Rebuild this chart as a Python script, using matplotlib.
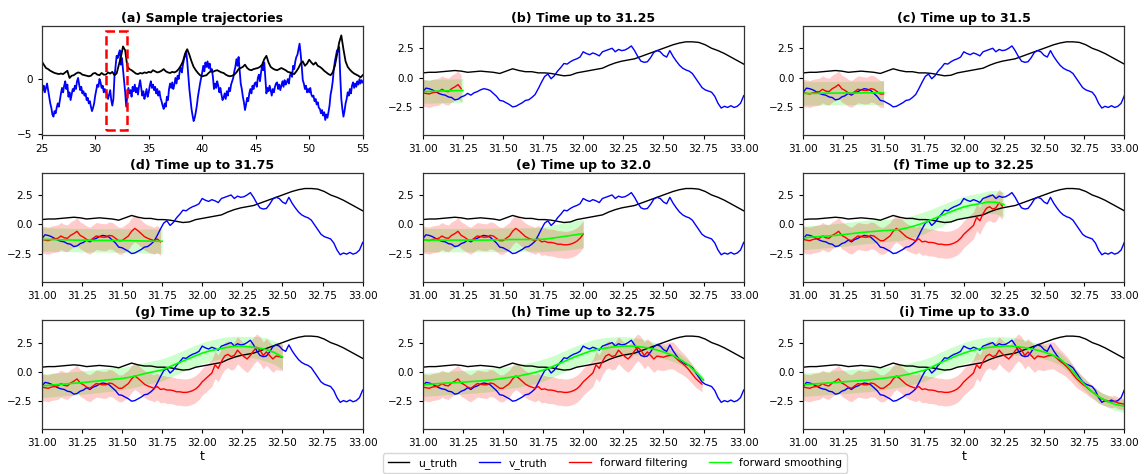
import numpy as np
import matplotlib
matplotlib.use("Agg")
import matplotlib.pyplot as plt
from matplotlib.patches import Rectangle
from matplotlib.lines import Line2D

# ---------------- panel (a): long sample trajectories, t = 25..55 ----------------
t_a_start, t_a_end = 25.0, 55.0
v_a = [
    -1.5, -1.0, -0.6, -1.2, -0.8, -0.4, -1.0, -1.6, -2.2, -2.6,
    -3.2, -3.4, -2.9, -3.1, -2.6, -2.2, -2.5, -1.9, -1.3, -0.8,
    -1.2, -0.6, -0.2, -0.9, -0.5, -1.6, -1.2, -1.9, -1.4, -0.9,
    -1.1, -0.6, -0.9, -0.2, 0.1, -0.5, -1.0, -0.7, -1.3, -1.1,
    -1.5, -1.3, -1.9, -1.7, -2.2, -2.0, -2.5, -2.9, -2.6, -2.2,
    -1.5, -1.0, -0.5, -0.7, 0.0, -0.3, -0.8, -0.6, -1.2, -0.9,
    -1.2, -1.4, -1.8, -1.4, -1.0, -1.9, -2.4, -1.8, 0.2, 1.1,
    2.1, 1.9, 2.3, 2.6, 1.3, 1.9, 0.9, -0.2, -1.2, -2.5,
    -1.5, -0.8, -1.3, -1.0, -1.6, -0.7, -1.1, -0.5, -1.2, -0.8,
    -1.4, -0.6, -0.1, -0.8, -1.5, -1.1, -1.8, -1.4, -0.9, -1.6,
    -1.2, -0.6, -0.2, -0.8, -0.5, -1.0, -0.7, -1.3, -0.9, -1.5,
    -1.1, -1.7, -2.0, -2.4, -2.7, -2.2, -2.5, -1.6, -1.9, -0.9,
    -0.4, -0.8, -0.3, -0.9, -0.5, 0.1, -0.4, 0.3, 0.0, 0.7,
    1.0, 0.6, 1.3, 1.8, 2.1, 2.5, 1.6, 0.4, -0.9, -1.8,
    -2.7, -3.3, -3.8, -3.5, -3.0, -2.4, -1.6, -1.0, -0.4, 0.1,
    0.6, 1.2, 0.7, 1.5, 1.1, 1.6, 1.0, 1.4, 0.7, 0.9,
    0.2, -0.9, -0.4, -0.8, -0.2, -0.6, -1.2, -0.8, -1.4, -1.9,
    -1.7, -1.3, -1.8, -1.1, -1.5, -0.8, -1.1, -0.5, -0.2, 0.1,
    0.7, 1.1, 1.8, 1.2, 2.0, 0.8, -0.4, -0.9, -1.6, -2.1,
    -2.8, -2.3, -1.7, -2.0, -1.3, -0.9, -1.3, -0.6, -0.9, -0.4,
    -0.3, -0.7, 0.1, 0.4, -0.2, 0.6, 1.2, 0.8, 1.5, 0.1,
    -1.3, -0.8, -1.1, -0.6, -1.0, -1.5, -0.9, -1.2, -0.7, -0.4,
    -0.3, -0.9, -0.5, -1.0, -0.6, -0.2, -0.7, -0.1, -0.5, -0.3,
    0.0, -0.4, 0.3, 0.6, 0.2, 1.2, 0.9, 1.6, 2.0, 2.2,
    2.7, 3.2, 2.3, 1.2, -0.1, -0.4, -0.9, -0.6, -1.2, -0.9,
    -1.2, -0.8, -1.4, -1.6, -1.5, -2.0, -1.8, -2.3, -2.1, -2.6,
    -2.7, -3.1, -2.8, -3.3, -3.0, -3.7, -3.2, -3.5, -3.0, -2.4,
    -1.4, -0.9, -0.2, 0.9, 1.6, 2.1, 2.6, 2.5, 2.9, 0.3,
    -1.8, -2.7, -3.4, -2.9, -2.2, -1.8, -1.2, -1.5, -0.9, -1.3,
    -0.6, -0.3, -0.8, -0.4, -0.7, -0.2, -0.5, 0.0, -0.4, -0.1,
    -0.3,
]
u_a = [
    1.6, 1.3, 1.0, 0.9, 0.75, 0.65, 0.55, 0.5, 0.45, 0.5,
    0.45, 0.6, 0.75, 0.1, 0.3, 0.35, 0.5, 0.6, 0.55, 0.4,
    0.35, 0.3, 0.25, 0.3, 0.5, 0.55, 0.4, 0.35, 0.55, 0.4,
    0.4, 0.6, 0.5, 0.65, 0.35, 0.5, 1.25, 2.0, 2.95, 2.6,
    1.15, 0.9, 0.8, 0.65, 0.5, 0.45, 0.55, 0.5, 0.6, 0.55,
    0.65, 0.6, 0.8, 0.7, 0.6, 0.65, 0.75, 0.9, 0.7, 0.6,
    0.55, 0.65, 0.6, 0.7, 0.9, 1.2, 1.6, 2.3, 2.7, 2.2,
    1.6, 1.1, 0.8, 0.55, 0.35, 0.25, 0.3, 0.35, 0.55, 0.7,
    0.65, 0.75, 0.8, 0.7, 0.6, 0.55, 0.4, 0.3, 0.25, 0.3,
    0.4, 0.6, 0.9, 1.0, 1.1, 1.3, 1.0, 0.85, 0.8, 0.9,
    0.95, 1.0, 1.1, 1.3, 1.8, 2.1, 1.5, 1.1, 0.95, 0.85,
    0.8, 0.9, 1.0, 0.9, 0.8, 0.65, 0.6, 0.5, 0.45, 0.7,
    1.0, 1.4, 1.6, 1.2, 1.4, 1.75, 1.5, 1.3, 1.5, 1.2,
    1.1, 0.95, 0.75, 0.6, 0.45, 0.35, 0.6, 1.2, 2.2, 3.3,
    3.95, 2.7, 1.6, 1.1, 0.85, 0.65, 0.5, 0.4, 0.3, 0.15,
    0.35,
]

# ---------------- zoomed window, t = 31..33 ----------------
v_truth = [
    -1.25, -0.9, -0.95, -1.05, -1.2, -1.35, -1.45, -1.5, -1.65, -1.7,
    -1.9, -1.85, -1.65, -1.55, -1.35, -1.5, -1.3, -1.2, -1.05, -0.95,
    -1.0, -1.1, -1.35, -1.6, -1.95, -2.0, -2.15, -2.3, -2.5, -2.45,
    -2.3, -2.15, -1.95, -1.9, -1.7, -1.45, -0.95, -0.4, 0.1, 0.3,
    -0.1, 0.15, 0.55, 0.85, 1.2, 1.15, 1.35, 1.5, 1.6, 1.75,
    2.2, 2.05, 1.95, 2.1, 2.0, 1.85, 2.2, 2.3, 2.4, 2.5,
    2.2, 2.4, 2.3, 2.35, 2.5, 2.7, 2.3, 1.8, 1.4, 1.3,
    1.35, 1.7, 2.15, 2.3, 2.2, 1.9, 1.75, 2.3, 1.8, 1.4,
    1.05, 0.8, 0.65, 0.55, 0.35, -0.05, -0.45, -0.85, -1.05, -1.15,
    -1.25, -1.6, -2.2, -2.6, -2.45, -2.55, -2.4, -2.55, -2.45, -2.2,
    -1.55,
]
u_truth = [
    0.4, 0.45, 0.45, 0.5, 0.55, 0.6, 0.55, 0.45, 0.5, 0.55,
    0.5, 0.45, 0.35, 0.55, 0.75, 0.6, 0.5, 0.5, 0.4, 0.4,
    0.35, 0.25, 0.15, 0.2, 0.4, 0.5, 0.6, 0.7, 0.8, 1.05,
    1.25, 1.4, 1.5, 1.6, 1.8, 2.0, 2.2, 2.4, 2.6, 2.8,
    2.95, 3.05, 3.05, 3.0, 2.8, 2.5, 2.3, 2.05, 1.75, 1.45,
    1.15,
]
filt_mean = [
    -1.3, -1.35, -1.4, -1.3, -1.25, -1.2, -1.0, -1.15, -1.2, -0.95,
    -0.8, -0.6, -0.95, -1.1, -1.3, -1.4, -1.2, -1.0, -1.05, -1.1,
    -1.1, -0.95, -1.0, -1.2, -1.4, -1.4, -1.2, -1.0, -0.6, -0.35,
    -0.55, -0.8, -1.05, -1.2, -1.3, -1.4, -1.25, -1.5, -1.45, -1.55,
    -1.55, -1.6, -1.7, -1.7, -1.75, -1.75, -1.7, -1.6, -1.45, -1.2,
    -0.85, -0.6, -0.35, -0.1, 0.6, 0.3, 0.9, 1.35, 1.5, 1.3,
    1.4, 1.85, 1.55, 1.3, 1.1, 1.4, 1.8, 2.1, 1.85, 1.4,
    1.7, 1.4, 1.1, 1.35, 1.3, 1.25, 1.35, 1.4, 1.4, 1.15,
    0.9, 0.7, 0.45, 0.15, -0.2, -0.55, -0.8, -1.05, -1.25, -1.5,
    -1.7, -1.9, -2.15, -2.3, -2.4, -2.5, -2.55, -2.5, -2.65, -2.7,
    -2.75,
]
filt_std = [1.15] * 79 + [1.1, 1.0, 0.95, 0.9, 0.85, 0.8, 0.75, 0.7, 0.65, 0.6, 0.6,
                          0.55, 0.55, 0.55, 0.5, 0.5, 0.5, 0.5, 0.5, 0.5, 0.5, 0.5]

# forward smoothing estimates (0.05 grid from 31.0 up to each panel's end time)
smooth_b = [-1.2, -1.18, -1.15, -1.13, -1.12, -1.1]
smooth_c = [-1.35, -1.35, -1.34, -1.33, -1.33, -1.32, -1.32, -1.31, -1.3, -1.3, -1.3]
smooth_d = [-1.3, -1.3, -1.32, -1.33, -1.35, -1.36, -1.37, -1.38, -1.38, -1.38,
            -1.38, -1.4, -1.42, -1.43, -1.45, -1.45]
smooth_e = [-1.35, -1.35, -1.35, -1.35, -1.35, -1.35, -1.35, -1.35, -1.35, -1.33,
            -1.32, -1.3, -1.3, -1.3, -1.3, -1.28, -1.2, -1.1, -1.0, -0.9, -0.8]
smooth_f = [-1.16, -1.1, -1.05, -1.0, -0.95, -0.88, -0.8, -0.72, -0.65, -0.6,
            -0.54, -0.5, -0.45, -0.3, -0.11, 0.11, 0.4, 0.68, 0.97, 1.24,
            1.48, 1.64, 1.76, 1.9, 1.88, 1.68]
smooth_g = [-1.2, -1.14, -1.08, -1.03, -0.97, -0.92, -0.85, -0.78, -0.7, -0.63,
            -0.57, -0.45, -0.3, -0.12, 0.02, 0.17, 0.45, 0.75, 1.03, 1.33,
            1.6, 1.8, 1.95, 2.08, 2.18, 2.18, 2.13, 2.05, 1.9, 1.65, 1.26]
smooth_h = [-1.1, -1.05, -1.0, -0.95, -0.92, -0.88, -0.83, -0.78, -0.72, -0.65,
            -0.55, -0.45, -0.35, -0.2, -0.05, 0.15, 0.4, 0.7, 1.0, 1.3,
            1.55, 1.8, 1.95, 2.05, 2.15, 2.2, 2.2, 2.15, 2.05, 1.9,
            1.7, 1.45, 1.1, 0.65, 0.0, -0.7]
smooth_i = [-1.1, -1.05, -1.0, -0.95, -0.9, -0.85, -0.8, -0.75, -0.7, -0.62,
            -0.55, -0.45, -0.35, -0.22, -0.05, 0.12, 0.4, 0.75, 1.05, 1.35,
            1.6, 1.82, 1.97, 2.08, 2.15, 2.2, 2.2, 2.12, 2.02, 1.88,
            1.7, 1.45, 1.1, 0.5, -0.3, -1.05, -1.7, -2.2, -2.55, -2.8, -2.92]

sstd_b = [1.0] * 6
sstd_c = [1.0] * 11
sstd_d = [1.0] * 13 + [1.05] * 3
sstd_e = [1.0] * 15 + [1.05, 1.1, 1.15, 1.2, 1.2, 1.2]
sstd_f = [1.0] * 10 + [0.95] * 6 + [0.9] * 6 + [0.9, 0.95, 1.0, 1.05]
sstd_g = [1.0] * 10 + [0.95] * 6 + [0.9] * 8 + [0.85, 0.85, 0.9, 0.95, 1.0, 1.0, 1.05]
sstd_h = [1.0] * 10 + [0.95] * 6 + [0.9] * 8 + [0.85, 0.8, 0.75, 0.7, 0.65, 0.6,
                                                0.55, 0.5, 0.45, 0.4, 0.35, 0.3]
sstd_i = [1.0] * 10 + [0.95] * 6 + [0.9] * 8 + [0.85, 0.8, 0.75, 0.7, 0.65, 0.6, 0.6,
                                                0.55, 0.55, 0.5, 0.5, 0.5, 0.5, 0.5,
                                                0.5, 0.5, 0.55]

panel_titles = ["(b) Time up to 31.25", "(c) Time up to 31.5", "(d) Time up to 31.75",
                "(e) Time up to 32.0", "(f) Time up to 32.25", "(g) Time up to 32.5",
                "(h) Time up to 32.75", "(i) Time up to 33.0"]
panel_end = [31.25, 31.5, 31.75, 32.0, 32.25, 32.5, 32.75, 33.0]
smooth_means = [smooth_b, smooth_c, smooth_d, smooth_e, smooth_f, smooth_g, smooth_h, smooth_i]
smooth_stds = [sstd_b, sstd_c, sstd_d, sstd_e, sstd_f, sstd_g, sstd_h, sstd_i]

legend_labels = ["u_truth", "v_truth", "forward filtering", "forward smoothing"]

# ---------------- figure ----------------
plt.rcParams['font.family'] = 'DejaVu Sans'
fig = plt.figure(figsize=(11.44, 4.74), dpi=100)

col_left = [41.7 / 1144, 422.7 / 1144, 803.3 / 1144]
ax_w = 321.0 / 1144
row_bottom = [1 - 135.0 / 474, 1 - 281.7 / 474, 1 - 429.3 / 474]
ax_h = 109.0 / 474

TICK_FS = 7.5
TITLE_FS = 9

def style(ax):
    ax.tick_params(labelsize=TICK_FS, length=3, width=0.8)
    for s in ax.spines.values():
        s.set_linewidth(0.9)
        s.set_color('#333333')

# panel (a)
ax = fig.add_axes([col_left[0], row_bottom[0], ax_w, ax_h])
t_a = np.linspace(t_a_start, t_a_end, len(v_a))
tu_a = np.linspace(t_a_start, t_a_end, len(u_a))
ax.plot(t_a, v_a, color='blue', lw=1.3)
ax.plot(tu_a, u_a, color='black', lw=1.3)
ax.add_patch(Rectangle((31.0, -4.64), 2.0, 8.95, fill=False, edgecolor='red',
                       linestyle='--', lw=1.8, zorder=5))
ax.set_xlim(25, 55)
ax.set_ylim(-5.06, 4.8)
ax.set_xticks(np.arange(25, 56, 5))
ax.set_yticks([-5, 0])
ax.set_title("(a) Sample trajectories", fontsize=TITLE_FS, fontweight='bold', pad=3)
style(ax)

t_v = np.linspace(31, 33, len(v_truth))
t_u = np.linspace(31, 33, len(u_truth))
t_f = np.linspace(31, 33, len(filt_mean))
fm = np.array(filt_mean)
fs = np.array(filt_std)

for k in range(8):
    pos = k + 1
    r, c = divmod(pos, 3)
    ax = fig.add_axes([col_left[c], row_bottom[r], ax_w, ax_h])
    T = panel_end[k]
    sm = np.array(smooth_means[k])
    ss = np.array(smooth_stds[k])
    ts = np.linspace(31, T, len(sm))
    mask = t_f <= T + 1e-9
    ax.fill_between(ts, sm - ss, sm + ss, color='lime', alpha=0.2, lw=0)
    ax.fill_between(t_f[mask], fm[mask] - fs[mask], fm[mask] + fs[mask],
                    color='red', alpha=0.2, lw=0)
    ax.plot(t_u, u_truth, color='black', lw=1.0)
    ax.plot(t_v, v_truth, color='blue', lw=1.0)
    ax.plot(t_f[mask], fm[mask], color='red', lw=1.0)
    ax.plot(ts, sm, color='lime', lw=1.2)
    ax.set_xlim(31, 33)
    ax.set_ylim(-4.9, 4.4)
    ax.set_xticks(np.arange(31, 33.001, 0.25))
    ax.set_xticklabels([f"{v:.2f}" for v in np.arange(31, 33.001, 0.25)])
    ax.set_yticks([-2.5, 0.0, 2.5])
    ax.set_yticklabels(["\u22122.5", "0.0", "2.5"])
    ax.set_title(panel_titles[k], fontsize=TITLE_FS, fontweight='bold', pad=3)
    if pos in (6, 8):
        ax.set_xlabel("t", fontsize=9, labelpad=1)
    style(ax)

handles = [Line2D([], [], color='black', lw=1.0),
           Line2D([], [], color='blue', lw=1.0),
           Line2D([], [], color='red', lw=1.0),
           Line2D([], [], color='lime', lw=1.0)]
fig.legend(handles, legend_labels, loc='lower center', ncol=4, fontsize=7.8,
           bbox_to_anchor=(615 / 1144, 0.0), borderaxespad=0.1, frameon=True)

fig.savefig("out.png", dpi=100)
